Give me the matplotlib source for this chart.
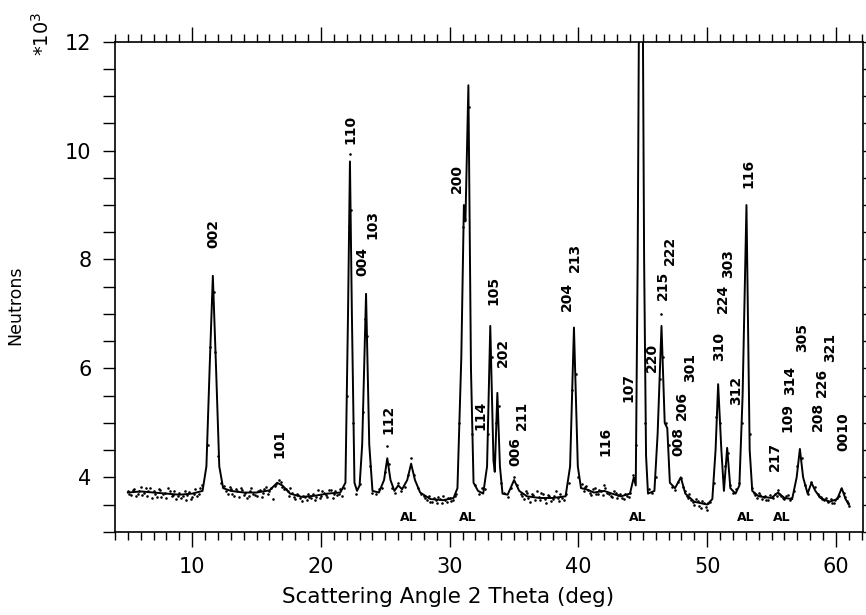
import matplotlib
matplotlib.use("Agg")
from matplotlib import pyplot as plt
from matplotlib.ticker import MultipleLocator

# calculated profile (2 theta in deg, neutrons in 10^3)
calc_x = [5.0, 6.0, 7.0, 8.0, 9.0, 10.0, 10.8, 11.1, 11.35, 11.6, 11.85, 12.1, 12.4,
          13.0, 14.0, 15.0, 16.0, 16.6, 17.0, 17.6, 18.5, 19.5, 20.5, 21.5,
          21.9, 22.1, 22.25, 22.4, 22.6, 22.8, 23.0, 23.2, 23.5, 23.75, 24.0, 24.5,
          24.9, 25.15, 25.4, 25.7, 26.0, 26.3, 26.7, 27.0, 27.3, 27.7, 28.5, 29.5,
          30.3, 30.6, 30.9, 31.1, 31.22, 31.45, 31.65, 31.85, 32.2, 32.6,
          32.9, 33.15, 33.4, 33.5, 33.7, 33.9, 34.1, 34.5, 35.0, 35.4, 36.0, 37.0,
          38.0, 39.0, 39.35, 39.65, 39.95, 40.2, 40.6, 41.2, 42.0, 42.6, 43.3, 44.0,
          44.3, 44.45, 44.6, 44.7, 45.0, 45.1, 45.25, 45.4, 45.9, 46.15, 46.45,
          46.7, 46.9, 47.1, 47.5, 47.95, 48.3, 49.0, 50.0, 50.4, 50.65, 50.85,
          51.1, 51.3, 51.55, 51.8, 52.2, 52.5, 52.75, 53.05, 53.3, 53.5, 54.0,
          55.0, 55.5, 56.0, 56.6, 56.95, 57.2, 57.45, 57.8, 58.1, 58.4, 58.8,
          59.5, 60.1, 60.45, 60.75, 61.0]
calc_y = [3.72, 3.74, 3.72, 3.70, 3.68, 3.70, 3.75, 4.2, 6.0, 7.7, 6.0, 4.2, 3.80,
          3.75, 3.72, 3.72, 3.76, 3.90, 3.85, 3.70, 3.64, 3.66, 3.70, 3.72,
          3.9, 7.0, 9.8, 7.0, 3.9, 3.75, 3.85, 4.6, 7.37, 4.6, 3.75, 3.72,
          3.95, 4.35, 3.95, 3.75, 3.85, 3.78, 3.95, 4.25, 3.95, 3.72, 3.60, 3.58,
          3.62, 3.8, 6.2, 9.0, 8.7, 11.2, 6.0, 3.9, 3.75, 3.70,
          4.2, 6.78, 4.3, 4.1, 5.55, 4.2, 3.7, 3.68, 3.95, 3.75, 3.65, 3.62,
          3.62, 3.65, 4.2, 6.75, 4.2, 3.80, 3.78, 3.72, 3.75, 3.70, 3.65, 3.70,
          4.0, 3.85, 8.0, 12.5, 12.5, 8.0, 4.4, 3.7, 3.75, 4.8, 6.78,
          5.0, 4.9, 3.9, 3.8, 4.0, 3.7, 3.55, 3.50, 3.6, 4.5, 5.71,
          4.5, 3.75, 4.54, 3.8, 3.7, 3.85, 5.5, 9.0, 4.5, 3.75, 3.65,
          3.62, 3.72, 3.62, 3.6, 4.0, 4.52, 4.0, 3.7, 3.9, 3.75, 3.62,
          3.55, 3.60, 3.80, 3.6, 3.50]

# observed counts (dots)
obs_x = [5.0, 5.25, 5.5, 5.75, 6.0, 6.25, 6.5, 6.75, 7.0, 7.25, 7.5, 7.75, 8.0, 8.25,
         8.5, 8.75, 9.0, 9.25, 9.5, 9.75, 10.0, 10.25, 10.5, 10.75,
         11.2, 11.4, 11.5, 11.7, 11.8, 12.0,
         12.25, 12.5, 12.75, 13.0, 13.25, 13.5, 13.75, 14.0, 14.25, 14.5, 14.75, 15.0,
         15.25, 15.5, 15.75, 16.0, 16.25, 16.5, 16.75, 17.0, 17.25, 17.5, 17.75, 18.0,
         18.25, 18.5, 18.75, 19.0, 19.25, 19.5, 19.75, 20.0, 20.25, 20.5, 20.75, 21.0,
         21.25, 21.5, 21.75,
         22.0, 22.15, 22.27, 22.35, 22.5, 22.75, 23.0, 23.25, 23.4, 23.6, 23.8, 24.0,
         24.25, 24.5, 24.75, 25.0, 25.1, 25.25, 25.5, 25.75, 26.0, 26.25, 26.5, 26.75,
         27.0, 27.25, 27.5, 27.75, 28.0, 28.25, 28.5, 28.75, 29.0, 29.25, 29.5, 29.75,
         30.0, 30.25, 30.5,
         30.75, 31.0, 31.5, 31.75, 32.0, 32.25, 32.5, 32.75, 33.0, 33.25, 33.6, 33.8,
         34.0, 34.25, 34.5, 34.75, 35.0, 35.25, 35.5, 35.75, 36.0, 36.25, 36.5, 36.75,
         37.0, 37.25, 37.5, 37.75, 38.0, 38.25, 38.5, 38.75, 39.0, 39.25, 39.5, 39.8,
         40.0, 40.25, 40.5, 40.75, 41.0, 41.25, 41.5, 41.75, 42.0, 42.25, 42.5, 42.75,
         43.0, 43.25, 43.5, 43.75, 44.0, 44.25, 44.5, 45.2, 45.5, 45.75, 46.0, 46.3,
         46.4, 46.6, 46.8, 47.0, 47.25, 47.5, 47.75, 48.0, 48.25, 48.5, 48.75, 49.0,
         49.25, 49.5, 49.75, 50.0, 50.25, 50.5, 50.7, 51.0, 51.2, 51.4, 51.6, 51.8,
         52.0, 52.25, 52.5, 52.7, 53.3, 53.5, 53.75, 54.0, 54.25, 54.5, 54.75, 55.0,
         55.25, 55.5, 55.75, 56.0, 56.25, 56.5, 56.75, 57.0, 57.35, 57.6, 57.85, 58.1,
         58.35, 58.6, 58.85, 59.1, 59.35, 59.6, 59.85, 60.1, 60.4, 60.6, 60.85, 61.0]
obs_y = [3.75, 3.68, 3.78, 3.70, 3.82, 3.72, 3.66, 3.80, 3.74, 3.64, 3.77, 3.69, 3.62, 3.75,
         3.68, 3.60, 3.71, 3.66, 3.58, 3.73, 3.64, 3.78, 3.70, 3.85,
         4.6, 6.4, 7.3, 7.4, 6.3, 4.4,
         3.90, 3.84, 3.70, 3.78, 3.66, 3.74, 3.80, 3.68, 3.62, 3.75, 3.70, 3.65,
         3.76, 3.72, 3.82, 3.74, 3.60, 3.88, 3.95, 3.82, 3.78, 3.66, 3.72, 3.60,
         3.68, 3.56, 3.64, 3.70, 3.62, 3.58, 3.76, 3.66, 3.72, 3.64, 3.76, 3.70,
         3.68, 3.78, 3.80,
         5.5, 8.6, 9.93, 8.9, 5.0, 3.70, 3.88, 5.2, 6.9, 6.6, 4.2, 3.72,
         3.70, 3.78, 3.80, 4.1, 4.57, 4.25, 3.80, 3.72, 3.90, 3.75, 3.82, 4.05,
         4.36, 4.05, 3.80, 3.70, 3.65, 3.58, 3.55, 3.62, 3.52, 3.60, 3.66, 3.55,
         3.62, 3.58, 3.70,
         5.0, 8.6, 10.8, 4.8, 3.85, 3.70, 3.80, 3.78, 4.8, 6.2, 5.0, 5.3,
         3.9, 3.72, 3.64, 3.80, 4.0, 3.85, 3.70, 3.60, 3.72, 3.55, 3.68, 3.74,
         3.58, 3.70, 3.52, 3.66, 3.60, 3.74, 3.56, 3.62, 3.70, 3.90, 5.6, 5.9,
         4.0, 3.88, 3.82, 3.76, 3.68, 3.80, 3.70, 3.74, 3.85, 3.72, 3.66, 3.74,
         3.62, 3.70, 3.60, 3.66, 3.72, 4.05, 4.6, 5.0, 3.78, 3.72, 4.0, 5.8,
         7.0, 6.2, 5.0, 4.6, 3.82, 3.76, 3.92, 3.98, 3.75, 3.62, 3.58, 3.50,
         3.56, 3.44, 3.52, 3.40, 3.55, 3.90, 5.1, 5.0, 4.0, 4.2, 4.45, 3.85,
         3.72, 3.78, 3.90, 5.0, 4.8, 3.80, 3.68, 3.72, 3.60, 3.66, 3.58, 3.64,
         3.70, 3.76, 3.66, 3.60, 3.68, 3.62, 3.75, 4.2, 4.35, 3.85, 3.70, 3.92,
         3.82, 3.70, 3.64, 3.58, 3.54, 3.60, 3.52, 3.62, 3.78, 3.72, 3.56, 3.48]

# extra observed counts on the background between peaks
bkg_x = [5.1, 5.4, 5.6, 5.9, 6.1, 6.4, 6.6, 6.9, 7.1, 7.4, 7.6, 7.9, 8.1, 8.4, 8.6,
         8.9, 9.1, 9.4, 9.6, 9.9, 10.1, 10.4, 10.6,
         12.6, 12.9, 13.1, 13.4, 13.6, 13.9, 14.1, 14.4, 14.6, 14.9, 15.1, 15.4, 15.6,
         15.9, 16.1, 16.4, 16.9, 17.1, 17.4, 17.6, 17.9, 18.1, 18.4, 18.6, 18.9, 19.1,
         19.4, 19.6, 19.9, 20.1, 20.4, 20.6, 20.9, 21.1, 21.4, 21.6,
         28.1, 28.4, 28.6, 28.9, 29.1, 29.4, 29.6, 29.9, 30.1, 30.4,
         35.6, 35.9, 36.1, 36.4, 36.6, 36.9, 37.1, 37.4, 37.6, 37.9, 38.1, 38.4, 38.6,
         38.9, 40.4, 40.6, 40.9, 41.1, 41.4, 41.6, 41.9, 42.1, 42.4, 42.6, 42.9, 43.1,
         43.4, 43.6, 43.9,
         48.1, 48.4, 48.6, 48.9, 49.1, 49.4, 49.6, 49.9, 50.1,
         53.6, 53.9, 54.1, 54.4, 54.6, 54.9, 55.1, 55.4, 55.6, 55.9, 56.1, 56.4,
         58.7, 58.9, 59.2, 59.4, 59.7, 59.9, 60.2, 60.7, 60.9]
bkg_y = [3.70, 3.76, 3.66, 3.74, 3.68, 3.80, 3.74, 3.62, 3.70, 3.78, 3.64, 3.72, 3.80, 3.66, 3.74,
         3.66, 3.62, 3.74, 3.68, 3.60, 3.70, 3.66, 3.80,
         3.74, 3.82, 3.70, 3.78, 3.64, 3.76, 3.72, 3.66, 3.80, 3.68, 3.74, 3.64, 3.78,
         3.70, 3.80, 3.84, 3.92, 3.78, 3.74, 3.80, 3.64, 3.70, 3.62, 3.66, 3.58, 3.64,
         3.70, 3.64, 3.62, 3.74, 3.68, 3.76, 3.62, 3.74, 3.70, 3.66,
         3.62, 3.66, 3.54, 3.58, 3.64, 3.52, 3.58, 3.62, 3.56, 3.66,
         3.66, 3.74, 3.62, 3.70, 3.58, 3.64, 3.72, 3.60, 3.68, 3.56, 3.66, 3.62, 3.70,
         3.58, 3.74, 3.84, 3.72, 3.78, 3.70, 3.76, 3.68, 3.80, 3.70, 3.64, 3.72, 3.68,
         3.62, 3.70, 3.64,
         3.82, 3.66, 3.70, 3.54, 3.60, 3.48, 3.56, 3.46, 3.52,
         3.72, 3.62, 3.68, 3.64, 3.58, 3.68, 3.62, 3.66, 3.70, 3.62, 3.66, 3.58,
         3.66, 3.60, 3.62, 3.56, 3.52, 3.58, 3.66, 3.64, 3.52]

# reflection labels
hkl_labels = ["002", "101", "110", "004", "103", "112", "200", "114", "105", "202",
              "006", "211", "204", "213", "116", "107", "220", "215", "222", "008",
              "206", "301", "310", "224", "303", "312", "116", "217", "109", "314",
              "305", "208", "226", "321", "0010"]
hkl_x = [11.63, 16.75, 22.27, 23.20, 23.98, 25.22, 30.57, 32.36, 33.37, 34.15,
         35.08, 35.62, 39.11, 39.74, 42.07, 43.85, 45.71, 46.57, 47.11, 47.73,
         48.04, 48.66, 50.92, 51.23, 51.61, 52.24, 53.17, 55.26, 56.27, 56.43,
         57.36, 58.60, 58.91, 59.53, 60.54]
hkl_y = [8.48, 4.63, 10.39, 7.96, 8.64, 5.07, 9.49, 5.13, 7.43, 6.29,
         4.48, 5.13, 7.33, 8.03, 4.66, 5.64, 6.21, 7.52, 8.16, 4.65,
         5.31, 6.01, 6.41, 7.28, 7.92, 5.60, 9.58, 4.39, 5.09, 5.77,
         6.56, 5.11, 5.75, 6.38, 4.83]

# aluminium (sample can) lines
al_x = [26.85, 31.43, 44.63, 53.01, 55.81]
al_y = 3.27

fig = plt.figure(figsize=(8.66, 6.15), dpi=100)
ax = fig.add_axes([0.1328, 0.1354, 0.9965 - 0.1328, 0.9322 - 0.1354])

ax.plot(calc_x, calc_y, color="black", lw=1.4)
ax.scatter(obs_x, obs_y, s=3.5, color="black", linewidths=0)
ax.scatter(bkg_x, bkg_y, s=3.5, color="black", linewidths=0)

for lab, x, y in zip(hkl_labels, hkl_x, hkl_y):
    ax.text(x, y, lab, rotation=90, ha="center", va="center", fontsize=10,
            fontweight="bold")
for x in al_x:
    ax.text(x, al_y, "AL", ha="center", va="center", fontsize=9, fontweight="bold")

ax.set_xlim(4.0, 62.1)
ax.set_ylim(3, 12)
ax.xaxis.set_major_locator(MultipleLocator(10))
ax.xaxis.set_minor_locator(MultipleLocator(1))
ax.yaxis.set_major_locator(MultipleLocator(2))
ax.yaxis.set_minor_locator(MultipleLocator(0.5))

ax.tick_params(which="both", direction="out", top=True, right=True, width=1,
               labelsize=15)
ax.tick_params(axis="x", which="major", length=11, pad=7)
ax.tick_params(axis="x", which="minor", length=5.5)
ax.tick_params(axis="y", which="both", length=9, pad=8)
for s in ax.spines.values():
    s.set_linewidth(1.2)

ax.set_xlabel("Scattering Angle 2 Theta (deg)", fontsize=15.5, va="center")
ax.xaxis.set_label_coords((448 - 115) / 748, -(597 - 531.7) / 490)
fig.text(15 / 866, 1 - 305 / 615, "Neutrons", rotation=90, ha="center",
         va="center", fontsize=12.5)
fig.text(42 / 866, 1 - 34 / 615, "*10$^3$", rotation=90, ha="center",
         va="center", fontsize=14)

fig.savefig("out.png", dpi=100)
